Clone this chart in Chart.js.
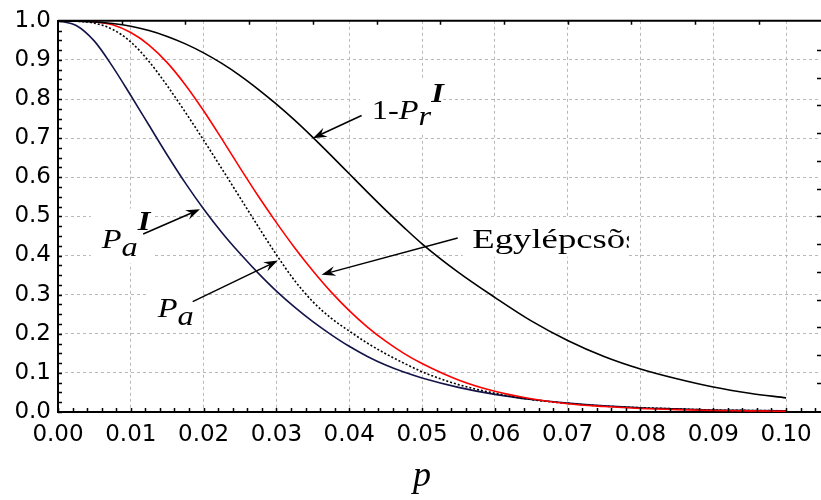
<!DOCTYPE html>
<html>
<head>
<meta charset="utf-8">
<script src="https://cdn.jsdelivr.net/npm/chart.js@4"></script>
<style>
  body { margin: 0; background: #fff; overflow: hidden; }
</style>
</head>
<body>
<canvas id="chart" width="821" height="500"></canvas>
<script>
// p values (x axis)
let pValues = [0, 0.0025, 0.005, 0.0075, 0.01, 0.0125, 0.015, 0.0175, 0.02, 0.0225, 0.025,
  0.0275, 0.03, 0.0325, 0.035, 0.0375, 0.04, 0.0425, 0.045, 0.0475, 0.05,
  0.055, 0.06, 0.065, 0.07, 0.075, 0.08, 0.085, 0.09, 0.095, 0.1];

// P_a^I (navy)
let paIValues = [1.0, 0.988, 0.948, 0.883, 0.809, 0.733, 0.657, 0.585, 0.519, 0.459, 0.405,
  0.355, 0.309, 0.268, 0.231, 0.198, 0.168, 0.142, 0.12, 0.102, 0.087,
  0.063, 0.045, 0.032, 0.023, 0.016, 0.011, 0.008, 0.005, 0.004, 0.003];

// P_a (dotted black)
let paValues = [1.0, 0.999, 0.994, 0.978, 0.946, 0.896, 0.834, 0.766, 0.695, 0.622, 0.548,
  0.474, 0.402, 0.336, 0.282, 0.24, 0.207, 0.176, 0.149, 0.125, 0.103,
  0.07, 0.048, 0.032, 0.022, 0.015, 0.011, 0.008, 0.005, 0.004, 0.003];

// Egylépcsõs (red)
let egyValues = [1.0, 1.0, 0.998, 0.99, 0.97, 0.938, 0.893, 0.836, 0.77, 0.698, 0.624,
  0.552, 0.484, 0.42, 0.361, 0.307, 0.259, 0.217, 0.181, 0.15, 0.124,
  0.082, 0.053, 0.034, 0.021, 0.014, 0.009, 0.006, 0.004, 0.003, 0.002];

// 1 - P_r^I (black)
let prValues = [1.0, 0.999, 0.997, 0.993, 0.986, 0.975, 0.96, 0.941, 0.918, 0.891, 0.86,
  0.825, 0.787, 0.746, 0.702, 0.656, 0.609, 0.562, 0.516, 0.472, 0.43,
  0.357, 0.293, 0.233, 0.183, 0.142, 0.11, 0.085, 0.064, 0.048, 0.036];

let xTicksStep = 0.01;
let yTicksStep = 0.1;

function toPoints(vals) {
    return pValues.map((p, i) => ({ x: p, y: vals[i] }));
}

// labels with arrows, positions in data units
let notes = [
    { parts: [["1-", 0, ""], ["P", 0, "italic "], ["r", 6, "italic "], ["I", -17, "italic bold "]],
      at: [0.0431, 0.748], box: [0.0415, 0.0529, 0.852, 0.71], sx: 1.2,
      arrow: [0.0417, 0.758, 0.0350, 0.700] },
    { parts: [["Egylépcsõs", 0, ""]],
      at: [0.0569, 0.420], box: [0.0556, 0.0784, 0.496, 0.397], clip: true, sx: 1.36,
      arrow: [0.0549, 0.445, 0.0362, 0.351] },
    { parts: [["P", 0, "italic "], ["a", 8, "italic "], ["I", -18, "italic bold "]],
      at: [0.0060, 0.42], box: [0.0045, 0.0129, 0.52, 0.38], sx: 1.2,
      arrow: [0.0117, 0.455, 0.0195, 0.518] },
    { parts: [["P", 0, "italic "], ["a", 8, "italic "]],
      at: [0.0137, 0.244], box: [0.0122, 0.0195, 0.336, 0.209], sx: 1.2,
      arrow: [0.0185, 0.282, 0.0302, 0.387] }
];

function drawArrow(ctx, x1, y1, x2, y2) {
    let ang = Math.atan2(y2 - y1, x2 - x1);
    let len = 14, w = 5;
    ctx.beginPath();
    ctx.moveTo(x1, y1);
    ctx.lineTo(x2 - Math.cos(ang) * 8, y2 - Math.sin(ang) * 8);
    ctx.stroke();
    ctx.beginPath();
    ctx.moveTo(x2, y2);
    ctx.lineTo(x2 - Math.cos(ang) * len - Math.sin(ang) * w, y2 - Math.sin(ang) * len + Math.cos(ang) * w);
    ctx.lineTo(x2 - Math.cos(ang) * len * 0.65, y2 - Math.sin(ang) * len * 0.65);
    ctx.lineTo(x2 - Math.cos(ang) * len + Math.sin(ang) * w, y2 - Math.sin(ang) * len - Math.cos(ang) * w);
    ctx.closePath();
    ctx.fill();
}

function drawParts(ctx, x, y, parts, size, sx) {
    ctx.save();
    ctx.translate(x, y);
    ctx.scale(sx, 1);
    let cx = 0;
    for (let [t, dy, style] of parts) {
        ctx.font = style + size + 'px "Liberation Serif"';
        ctx.fillText(t, cx, dy);
        cx += ctx.measureText(t).width;
    }
    ctx.restore();
}

let annotPlugin = {
    id: "annot",
    beforeDatasetsDraw(chart) {
        let ctx = chart.ctx, xs = chart.scales.x, ys = chart.scales.y;
        ctx.save();
        ctx.fillStyle = "#fff";
        notes.forEach(n => {
            let l = xs.getPixelForValue(n.box[0]), r = xs.getPixelForValue(n.box[1]);
            let t = ys.getPixelForValue(n.box[2]), b = ys.getPixelForValue(n.box[3]);
            ctx.fillRect(l, t, r - l, b - t);
        });
        ctx.restore();
    },
    afterDatasetsDraw(chart) {
        let ctx = chart.ctx, xs = chart.scales.x, ys = chart.scales.y, a = chart.chartArea;
        ctx.save();
        ctx.strokeStyle = "#000";
        ctx.fillStyle = "#000";

        // top frame
        ctx.lineWidth = 2;
        ctx.beginPath();
        ctx.moveTo(a.left, a.top);
        ctx.lineTo(a.right, a.top);
        ctx.stroke();

        // minor ticks
        ctx.lineWidth = 1.5;
        ctx.beginPath();
        for (let v = 0; v <= 1.0001; v += 0.025) {
            let y = Math.round(ys.getPixelForValue(v)) + 0.5;
            ctx.moveTo(a.left, y); ctx.lineTo(a.left + 4, y);
        }
        for (let v = 0; v <= xs.max; v += 0.002) {
            let x = Math.round(xs.getPixelForValue(v)) + 0.5;
            ctx.moveTo(x, a.bottom); ctx.lineTo(x, a.bottom - 4);
        }
        for (let v = 0.00875; v <= xs.max; v += 0.00875) {
            let x = Math.round(xs.getPixelForValue(v)) + 0.5;
            ctx.moveTo(x, a.top); ctx.lineTo(x, a.top + 4);
        }
        for (let v = 0.0746; v < 0.95; v += 0.0709) {
            let y = Math.round(ys.getPixelForValue(v)) + 0.5;
            ctx.moveTo(a.right - 4, y); ctx.lineTo(a.right, y);
        }
        ctx.stroke();

        // arrows and labels
        ctx.lineWidth = 1.5;
        notes.forEach(n => {
            drawArrow(ctx, xs.getPixelForValue(n.arrow[0]), ys.getPixelForValue(n.arrow[1]),
                xs.getPixelForValue(n.arrow[2]), ys.getPixelForValue(n.arrow[3]));
            ctx.save();
            if (n.clip) {
                let l = xs.getPixelForValue(n.box[0]), r = xs.getPixelForValue(n.box[1]);
                ctx.beginPath();
                ctx.rect(l, 0, r - l, 500);
                ctx.clip();
            }
            drawParts(ctx, xs.getPixelForValue(n.at[0]), ys.getPixelForValue(n.at[1]), n.parts, 27, n.sx);
            ctx.restore();
        });

        // axis title
        ctx.font = 'italic 36px "Liberation Serif"';
        ctx.textAlign = "center";
        ctx.fillText("p", xs.getPixelForValue(0.05), 486);
        ctx.restore();
    }
};

let ctx = document.getElementById("chart").getContext("2d");
let chart = new Chart(ctx, {
    type: "line",
    data: {
        datasets: [
            { label: "1-Pr I", data: toPoints(prValues), borderColor: "#000000", borderWidth: 1.6 },
            { label: "Egylépcsõs", data: toPoints(egyValues), borderColor: "#ff0000", borderWidth: 1.6 },
            { label: "Pa", data: toPoints(paValues), borderColor: "#000000", borderWidth: 1.6, borderDash: [2, 2] },
            { label: "Pa I", data: toPoints(paIValues), borderColor: "#14144a", borderWidth: 1.6 }
        ]
    },
    options: {
        responsive: false,
        animation: false,
        parsing: false,
        elements: { point: { radius: 0 }, line: { cubicInterpolationMode: "monotone" } },
        layout: { padding: { top: 19, left: 0, right: 0, bottom: 0 } },
        plugins: { legend: { display: false }, tooltip: { enabled: false } },
        scales: {
            x: {
                type: "linear",
                min: 0,
                max: 0.1048,
                afterFit: s => { s.height = 88; },
                ticks: {
                    stepSize: xTicksStep,
                    includeBounds: false,
                    autoSkip: false,
                    maxRotation: 0,
                    padding: 9,
                    color: "#000",
                    font: { family: "DejaVu Sans", size: 23 },
                    callback: v => v.toFixed(2)
                },
                grid: { color: "#b8b8b8", lineWidth: 1, drawTicks: false },
                border: { display: true, color: "#000", width: 2, dash: [3, 3] }
            },
            y: {
                type: "linear",
                min: 0,
                max: 1,
                afterFit: s => { s.width = 58; },
                ticks: {
                    stepSize: yTicksStep,
                    padding: 7,
                    color: "#000",
                    font: { family: "DejaVu Sans", size: 23 },
                    callback: v => v.toFixed(1)
                },
                grid: { color: "#b8b8b8", lineWidth: 1, drawTicks: false },
                border: { display: true, color: "#000", width: 2, dash: [3, 3] }
            }
        }
    },
    plugins: [annotPlugin]
});
</script>
</body>
</html>
